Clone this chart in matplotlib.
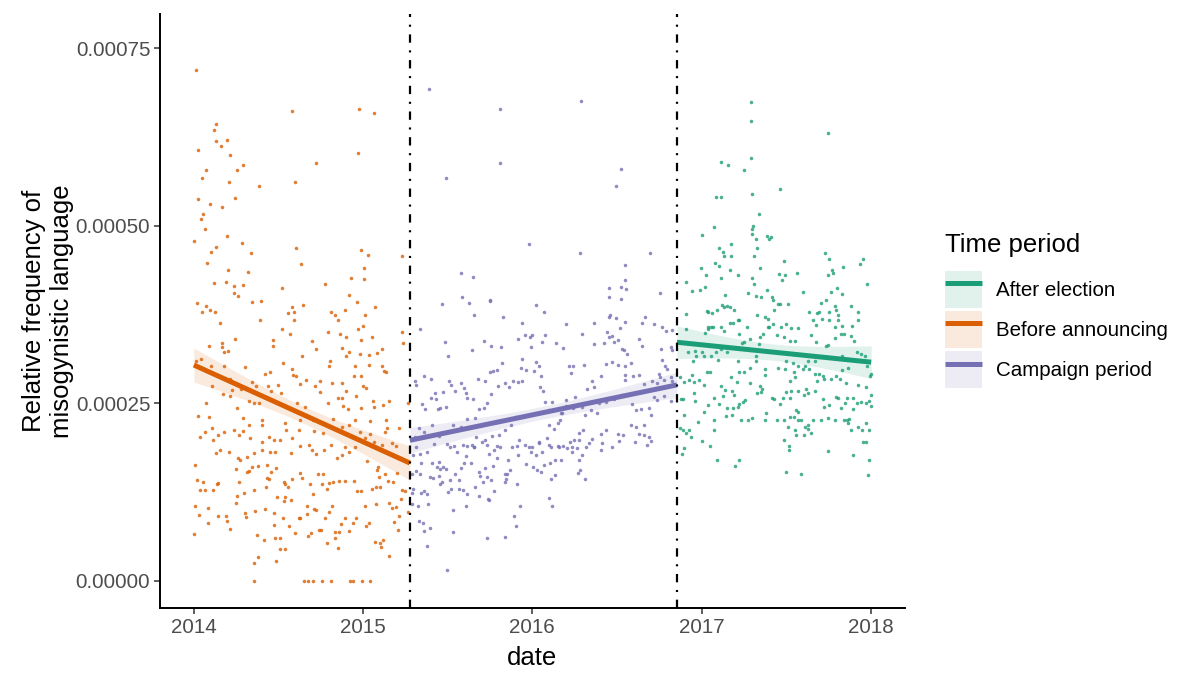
import numpy as np
import pandas as pd
import matplotlib
matplotlib.use("Agg")
import matplotlib.pyplot as plt
import matplotlib.dates as mdates
from matplotlib.lines import Line2D
from matplotlib.patches import Patch
from matplotlib.ticker import FuncFormatter

START = pd.Timestamp("2014-01-01")
ANNOUNCE = pd.Timestamp("2015-04-12")
ELECTION = pd.Timestamp("2016-11-08")
END = pd.Timestamp("2018-01-01")

# daily points: day = days since 2014-01-01, val = relative frequency in units of 1e-5
before_day = [
    4, 211, 356, 389, 355, 263, 219, 140, 48, 44, 48, 71, 58, 8, 78, 107, 94, 27, 18, 76, 89, 10, 34, 60, 20, 16, 24,
    71, 1, 103, 47, 37, 124, 220, 360, 375, 450, 29, 231, 367, 73, 117, 339, 367, 43, 69, 87, 105, 283, 191, 86,
    96, 334, 126, 144, 7, 353, 27, 212, 236, 391, 18, 35, 46, 203, 215, 296, 305, 325, 369, 217, 312, 143, 57, 364,
    354, 190, 289, 449, 208, 315, 329, 89, 171, 255, 361, 385, 451, 60, 73, 32, 170, 264, 320, 61, 65, 334, 406,
    395, 358, 378, 328, 233, 4, 15, 293, 192, 377, 347, 405, 38, 66, 110, 292, 211, 411, 415, 165, 153, 214, 220,
    346, 360, 242, 272, 298, 319, 79, 135, 125, 229, 159, 182, 262, 40, 365, 372, 329, 83, 79, 62, 102, 166, 188,
    272, 349, 312, 319, 386, 421, 409, 26, 120, 129, 140, 223, 239, 290, 321, 333, 360, 389, 94, 461,
    8, 33, 107, 147, 197, 228, 258, 301, 348, 381, 414,
    13, 23, 40, 53, 65, 87, 98, 107, 118, 146, 198, 226, 260, 278, 319, 334, 359, 379, 413, 417, 443,
    41, 47, 56, 75, 96, 100, 115, 122, 130, 148, 147, 163, 165, 172, 185, 175, 210, 211, 229, 249, 255, 263, 280,
    296, 309, 320, 335, 348, 370, 388, 406, 427, 435, 373, 327,
    3, 6, 19, 13, 23, 41, 51, 53, 91, 98, 115, 119, 126, 138, 157, 157, 162, 167, 178, 194, 197, 204, 211, 228, 233,
    250, 258, 268, 278, 276, 287, 292, 301, 314, 327, 345, 353, 361, 385, 392, 401, 397, 399, 413, 419, 429, 438,
    450, 456, 395,
    3, 11, 30, 31, 53, 69, 72, 77, 91, 93, 109, 111, 112, 130, 131, 154, 156, 173, 173, 179, 192, 195, 197, 206,
    209, 226, 229, 244, 260, 263, 244, 270, 274, 282, 292, 299, 305, 304, 314, 318, 325, 335, 343, 350, 370, 372,
    378, 392, 391, 402, 404, 407, 422, 427, 432, 435, 442, 440, 462, 447,
    0, 137, 152, 175, 185, 185, 197, 129, 138, 177, 219, 247, 252, 287, 310, 420,
    129, 237, 247, 256, 276, 296, 336, 343, 363, 380,
]
before_val = [
    71.9, 66.1, 66.5, 65.9, 60.3, 58.9, 56.1, 55.6, 64.3, 63.5, 61.9, 62.1, 61.2, 60.6, 59.9, 58.6, 57.9, 57.8, 56.7,
    56.2, 53.9, 53.8, 53.0, 52.6, 51.7, 50.9, 49.6,
    48.6, 47.9, 47.5, 47.0, 46.3, 46.2, 46.8, 46.6, 45.9, 45.7, 44.8, 44.6, 44.0, 43.7, 43.5, 42.7, 42.5, 42.0, 42.1,
    41.5, 41.6, 41.8, 41.2, 40.5, 40.1, 40.3, 39.2, 39.4, 39.1, 39.3, 38.7, 38.6, 38.8, 38.5, 37.9, 38.1, 37.8, 37.7,
    37.8, 37.9, 37.4, 38.1, 37.5, 36.7, 36.8, 36.8, 36.3, 35.9, 35.5, 35.5, 35.1, 35.0, 34.8, 34.7, 34.3, 34.1, 33.9,
    33.8, 33.9, 34.4, 33.5, 33.5, 32.4, 33.1, 33.1, 32.6, 32.8, 32.9, 32.3, 32.2, 32.6, 32.1, 32.0, 31.8, 31.6, 31.7,
    30.9, 31.2, 30.9, 30.7, 30.4, 30.3, 30.2, 30.2, 30.2, 30.1, 30.2, 29.9, 29.6, 29.4, 29.4, 29.2, 29.0, 28.9, 28.9,
    28.9, 28.3, 28.2, 27.9, 27.9, 28.5, 27.5, 28.0, 27.7, 27.5, 27.6, 27.4, 27.5, 27.4, 27.1, 26.8, 26.9, 26.1, 26.3,
    27.0, 26.8, 26.4, 26.6, 26.0, 25.8, 25.8, 25.3, 25.3, 24.8, 25.0, 25.4, 25.1, 25.1, 25.1, 24.5, 25.0, 24.6, 24.2,
    24.3, 24.5, 24.3, 25.0,
    23.2, 23.1, 23.0, 22.7, 22.3, 22.6, 22.6, 22.8, 22.6, 22.5, 22.7,
    20.3, 21.0, 21.6, 20.5, 21.0, 21.3, 20.5, 21.1, 21.9, 22.0, 21.2, 21.3, 21.1, 20.9, 21.7, 21.9, 21.0, 20.7, 21.0,
    21.6, 21.6,
    19.8, 18.0, 18.4, 18.2, 17.3, 17.1, 17.5, 20.1, 18.0, 19.5, 18.5, 20.2, 18.2, 19.8, 19.8, 18.1, 18.0, 20.1, 19.0,
    19.2, 18.5, 17.9, 18.4, 19.2, 17.3, 17.7, 18.1, 18.9, 20.1, 19.6, 19.1, 19.4, 19.0, 16.9, 18.9,
    16.3, 14.2, 14.0, 12.8, 12.8, 12.8, 13.7, 13.8, 15.7, 14.0, 15.3, 15.5, 16.1, 16.2, 16.3, 14.5, 14.4, 15.4, 15.9,
    14.0, 13.6, 13.2, 14.4, 15.2, 14.5, 13.6, 12.2, 15.1, 15.0, 13.6, 12.9, 13.8, 14.0, 14.1, 14.1, 14.1, 12.6, 12.7,
    12.9, 13.2, 13.2, 16.0, 14.7, 15.0, 14.1, 14.0, 15.2, 12.8, 12.7, 15.6,
    10.6, 9.3, 8.1, 10.3, 9.1, 9.1, 8.5, 7.3, 11.0, 12.0, 12.4, 9.6, 9.0, 12.8, 9.8, 10.2, 13.2, 7.9, 9.6, 11.8, 8.8,
    11.3, 11.8, 7.7, 11.4, 8.8, 8.8, 10.5, 10.1, 10.0, 9.5, 7.2, 7.2, 8.9, 9.7, 10.6, 6.0, 6.9, 6.9, 8.0, 8.8, 7.0,
    8.1, 8.8, 10.5, 7.7, 8.2, 10.8, 5.5, 5.4, 4.8, 5.8, 11.0, 10.3, 8.3, 10.4, 9.1, 7.2, 9.7, 11.5,
    6.6, 6.5, 5.8, 6.0, 6.0, 4.5, 4.5, 2.5, 3.4, 2.8, 6.8, 6.4, 6.7, 5.3, 4.7, 3.5,
    0, 0, 0, 0, 0, 0, 0, 0, 0, 0,
]

campaign_day = [
    508, 660, 835, 661, 543, 921, 910, 724, 834, 985, 930, 577, 603, 929, 895, 921, 932, 1005, 578, 895, 922, 638,
    536, 594, 638, 739, 756, 605, 666, 895, 910, 897, 931, 974, 967, 488, 707, 802, 863, 891, 919, 992, 1010, 1019,
    1032, 542, 548, 599, 626, 640, 663, 700, 714, 726, 730, 727, 757, 751, 782, 797, 838, 864, 884, 895, 901, 906,
    916, 924, 928, 935, 960, 966, 1007, 1032, 1029,
    665, 645, 655, 639, 627, 614, 583, 588, 577, 564, 551, 554, 512, 496, 480, 478, 521, 537, 511, 493, 499, 526,
    530, 544, 522, 485, 476, 496, 514, 529, 559, 576, 590, 606, 589, 603, 616, 632, 626, 642, 657, 671, 679, 689,
    699, 708, 705, 707, 717, 733, 738, 744, 748, 746, 753, 758, 766, 773, 766, 776, 785, 793, 802, 809, 814, 818,
    841, 849, 859, 864, 878, 888, 902, 915, 929, 931, 943, 931, 947, 960, 971, 989, 998, 1006, 1003, 1015, 1010,
    1016, 1020, 1029, 1032, 993, 998, 1014, 1029, 982, 964, 953, 945, 943, 953, 972, 960, 970, 982, 986, 924, 906,
    888, 874, 870, 856, 843, 838, 823, 817, 802, 794, 789, 839, 830, 820, 812, 830, 859, 879, 888, 914, 926, 694,
    684, 672, 658, 643, 629, 609, 581, 562, 547, 604, 632, 661, 701, 715, 730, 744, 761, 770, 787, 805, 827, 845,
    881, 903,
    480, 487, 472, 503, 519, 553, 568, 587, 589, 604, 599, 622, 636, 647, 655, 654, 677, 686, 699, 697, 722, 728,
    737, 745, 750, 766, 786, 792, 796, 816, 816, 838, 830, 853, 879, 917, 951, 977, 986,
    491, 514, 529, 537, 543, 524, 532, 528, 509, 515, 479, 488, 470, 564, 576, 583, 598, 615, 617, 629, 646, 672,
    673, 676, 681, 717, 732, 740, 749, 755, 769, 779, 779, 833, 829, 843, 770,
    555, 573, 590, 548, 530, 535, 552, 571, 607, 624, 632, 642, 698, 672, 471, 496, 489, 502, 470, 483, 505, 473,
    634, 636, 616, 647, 581, 559, 586, 704, 767, 773, 690, 486, 494, 510, 497, 558, 633, 671, 695, 502, 547,
]
campaign_val = [
    69.3, 66.5, 67.5, 58.8, 56.7, 58.0, 55.6, 47.4, 46.1, 46.1, 44.5, 43.3, 42.8, 42.4, 41.3, 41.4, 41.1, 40.6, 40.0,
    40.0, 39.7, 39.6,
    39.0, 39.1, 39.4, 38.8, 37.9, 37.4, 37.2, 37.2, 37.0, 37.4, 36.4, 37.1, 36.3, 35.4, 36.3, 36.2, 36.3, 35.1, 35.6,
    36.2, 35.8, 35.2, 35.3, 33.6, 31.7, 32.5, 33.8, 33.1, 32.9, 34.0, 34.6, 34.4, 34.6, 33.0, 34.6, 33.6, 33.5, 32.8,
    34.7, 33.4, 33.5, 34.4, 34.5, 33.7, 33.9, 32.6, 32.5, 31.9, 34.0, 33.1, 32.6, 32.5, 33.0,
    30.7, 29.6, 29.7, 29.4, 28.1, 28.4, 27.1, 26.4, 27.8, 26.7, 28.1, 27.6, 28.5, 28.8, 27.6, 28.1, 26.5, 26.6, 25.8,
    24.9, 24.2, 24.2, 24.4, 24.5, 25.6, 21.6, 20.3, 21.0, 22.0, 20.4, 21.9, 21.7, 22.8, 22.9, 25.7, 25.6, 24.2, 25.1,
    24.4, 26.3, 27.4, 27.8, 27.3, 28.1, 28.0, 28.1, 30.0, 31.3, 29.7, 29.6, 30.8, 30.3, 28.8, 27.3, 26.8, 25.2, 24.1,
    25.2, 21.9, 21.4, 22.3, 23.6, 25.5, 30.2, 29.3, 30.2, 30.4, 27.0, 28.2, 27.3, 28.8, 30.5, 30.8, 30.4, 29.0, 30.2,
    30.7, 28.3, 28.9, 29.0, 27.7, 28.2, 27.9, 28.7, 29.1, 28.3, 31.1, 30.3, 29.8, 28.7, 28.1, 25.9, 25.5, 26.0, 25.4,
    24.3, 24.2, 24.1, 24.9, 21.9, 21.7, 21.9, 20.7, 20.5, 20.3, 23.4, 26.2, 25.6, 25.2, 25.0, 23.7, 24.1, 23.4, 24.5,
    25.9, 24.3, 24.6, 23.6, 22.7, 21.3, 20.9, 19.9, 19.6, 19.8, 20.0, 20.7, 21.2, 20.7, 20.6, 23.1, 21.9, 21.3, 20.5,
    20.4, 19.8, 20.3, 19.1, 19.0, 19.3, 18.9, 19.1, 18.8, 19.8, 19.1, 18.9, 19.4, 20.1, 18.8, 18.9, 18.7, 18.7, 18.9,
    19.4, 18.9,
    18.9, 17.9, 17.7, 18.2, 19.3, 18.9, 18.1, 17.6, 19.0, 18.9, 19.2, 19.6, 17.9, 18.4, 19.0, 17.3, 17.0, 18.9, 17.7,
    19.0, 18.8, 18.2, 17.8, 19.5, 18.1, 19.1, 19.0, 17.1, 19.0, 18.2, 18.9, 17.7, 17.0, 19.4, 18.4, 19.7, 19.6, 19.2,
    19.7,
    16.6, 16.6, 16.7, 16.0, 15.7, 16.1, 15.8, 14.8, 14.6, 14.5, 15.5, 15.1, 15.1, 15.1, 15.9, 16.6, 16.6, 15.4, 14.8,
    15.9, 16.2, 15.1, 14.4, 15.0, 15.6, 16.4, 16.1, 15.6, 15.3, 16.3, 16.6, 17.1, 14.9, 15.6, 15.2, 14.3, 14.3,
    12.9, 12.9, 12.3, 12.5, 13.6, 13.9, 14.2, 14.2, 13.3, 13.9, 14.7, 14.2, 13.7, 14.0, 12.4, 12.7, 12.4, 12.2, 10.9,
    10.6, 10.9, 13.0, 11.6, 11.4, 12.0, 12.6, 12.8, 10.0, 10.5, 10.5, 11.7, 10.5, 9.2, 8.5, 8.2, 7.4, 7.1, 6.9, 6.1,
    6.2, 7.7, 4.9, 1.5,
]

after_day = [
    1202, 1202, 1368,
    1202, 1137, 1152, 1187, 1264, 1127, 1138, 1203, 1218, 1207, 1204, 1205, 1123, 1097, 1213, 1236, 1240, 1245,
    1133, 1158, 1141, 1144, 1159, 1215, 1209, 1125, 1132, 1094, 1105, 1156, 1138, 1173, 1221, 1272, 1262, 1275,
    1269, 1300, 1204, 1208, 1362, 1371, 1377, 1379, 1367, 1401, 1444, 1436, 1452, 1062, 1074, 1091, 1103, 1146,
    1196, 1212, 1223, 1236, 1248, 1249, 1261, 1265, 1281, 1313, 1364, 1375, 1388, 1399, 1352, 1369, 1383, 1385,
    1418, 1432, 1061, 1106, 1108, 1118, 1128, 1140, 1144, 1149, 1157, 1165, 1174, 1177, 1156, 1164, 1194, 1215,
    1232, 1239, 1252, 1327, 1344, 1349, 1336, 1341, 1354, 1370, 1390, 1390, 1432, 1119, 1110, 1137, 1238, 1249,
    1267, 1277, 1288, 1303,
    1061, 1110, 1115, 1241, 1420, 1398, 1382, 1102, 1143, 1175, 1187, 1182, 1199, 1218, 1221, 1228, 1258, 1272,
    1285, 1297, 1331, 1341, 1363, 1368, 1382, 1395, 1403, 1418, 1425, 1066, 1082, 1084, 1077, 1097, 1101, 1115,
    1126, 1138, 1150, 1130, 1173, 1186, 1199, 1177, 1159, 1171, 1212, 1233, 1231, 1212, 1199, 1222, 1259, 1278,
    1292, 1304, 1313, 1319, 1328, 1325, 1339, 1340, 1349, 1357, 1360, 1345, 1375, 1385, 1398, 1398, 1411, 1430,
    1439, 1448, 1452, 1458, 1461, 1449, 1432, 1406, 1393, 1295, 1297, 1286, 1275, 1048, 1058, 1069, 1078, 1090,
    1074, 1107, 1114, 1137, 1101, 1145, 1161, 1166, 1141, 1123, 1108, 1079, 1081, 1056, 1051, 1132, 1150, 1162,
    1173, 1177, 1184, 1188, 1226, 1223, 1215, 1248, 1251, 1277, 1288, 1286, 1264, 1270, 1303, 1316, 1321, 1324,
    1340, 1357, 1359, 1369, 1385, 1389, 1396, 1404, 1408, 1422, 1431, 1439, 1450, 1457, 1461, 1460, 1421, 1413,
    1410, 1403, 1408, 1432, 1449, 1457, 1442, 1418, 1382, 1367, 1353, 1335, 1324, 1310, 1304, 1295, 1299, 1303,
    1285, 1272, 1257, 1235, 1232, 1203, 1196, 1180, 1160, 1148, 1121, 1123, 1101, 1087, 1058, 1049, 1056, 1061,
    1069, 1072, 1096, 1113, 1058, 1053, 1282, 1284, 1284, 1272, 1299, 1297, 1316, 1324, 1319, 1331, 1367, 1422,
    1457, 1454, 1443, 1450, 1177, 1167, 1129, 1278, 1310,
]
after_val = [
    67.4, 64.7, 63.0,
    59.6, 59.0, 58.5, 57.8, 55.2, 54.0, 54.1, 54.4, 51.7, 50.0, 49.5, 48.9, 49.8, 48.7, 48.2, 48.5, 48.1, 48.4, 46.8,
    47.4, 46.3, 45.8, 45.7, 46.9, 45.7, 44.8, 44.3, 44.1, 43.1, 43.8, 42.7, 43.1, 44.0, 45.0, 43.2, 43.1, 42.4, 43.4,
    42.7, 41.8, 46.2, 45.3, 43.8, 43.4, 43.0, 44.2, 45.3, 44.6, 41.8, 42.1, 40.8, 41.0, 41.4, 40.2, 40.5, 40.1, 40.0,
    41.0, 40.0, 39.5, 39.0, 39.0, 39.0, 40.7, 39.6, 40.7, 41.3, 40.4, 39.1, 37.9, 38.7, 38.1, 38.7, 37.9, 37.6, 38.0,
    37.8, 37.7, 38.2, 38.9, 38.6, 38.7, 38.6, 38.2, 36.8, 36.8, 36.3, 36.3, 35.8, 37.4, 37.1, 36.9, 38.2, 37.8, 37.7,
    37.9, 36.7, 36.0, 36.9, 36.7, 36.7, 37.4, 36.7, 35.8, 35.7, 35.7, 35.8, 36.2, 35.8, 36.2, 35.6, 35.6,
    35.5, 35.4, 35.7, 35.8, 35.9, 35.9, 35.8, 34.9, 35.2, 34.7, 33.7, 33.5, 34.0, 33.3, 34.4, 34.7, 34.6, 34.4, 33.8,
    33.8, 34.6, 33.6, 33.1, 33.2, 34.2, 34.8, 34.8, 34.5, 33.8, 32.2, 32.4, 31.6, 30.9, 32.2, 31.6, 31.7, 32.3, 32.6,
    32.3, 31.1, 30.9, 29.4, 30.0, 29.4, 28.7, 28.0, 31.7, 29.8, 29.0, 30.9, 27.8, 27.5, 30.0, 31.0, 30.7, 30.3, 29.9,
    30.2, 29.9, 31.0, 30.9, 29.2, 29.2, 28.9, 28.5, 28.1, 28.5, 28.8, 29.7, 31.6, 30.0, 32.2, 32.0, 31.7, 30.2, 28.8,
    29.1, 27.3, 27.6, 27.8, 28.4, 29.4, 28.7, 28.1, 29.9, 28.7, 28.0, 28.3, 28.0, 28.3, 29.0, 29.4, 29.4, 27.5, 27.6,
    26.9, 26.7, 26.2, 26.0, 25.8, 24.8, 26.4, 25.4, 25.6, 25.6, 24.9, 24.4, 24.3, 24.5, 24.9, 25.2, 25.5, 27.0, 26.6,
    26.4, 25.8, 25.6, 26.6, 26.8, 25.8, 24.9, 25.8, 26.8, 26.2, 27.0, 26.5, 26.8, 25.6, 24.5, 24.8, 25.9, 25.8, 24.4,
    25.1, 25.8, 25.7, 25.0, 25.2, 25.0, 25.4, 26.2, 24.6, 24.2, 22.8, 22.2, 22.6, 22.6, 21.7, 22.2, 21.3, 21.2, 21.2,
    22.6, 23.0, 22.7, 22.6, 21.9, 22.6, 22.6, 23.1, 24.1, 23.8, 23.1, 22.6, 22.6, 23.6, 22.7, 22.9, 22.6, 22.6, 23.4,
    23.2, 22.7, 21.2, 23.8, 22.4, 23.4, 21.5, 21.2, 20.9, 21.2, 20.3, 19.7, 19.0, 18.7, 17.9, 21.7, 19.0, 18.4, 19.9,
    20.5, 21.2, 20.5, 21.4, 21.7, 20.8, 18.3, 17.7, 17.0, 14.9, 19.5, 19.5, 17.1, 16.2, 17.1, 15.3, 15.1,
]

# lm fit: value at start and end of each period (1e-5)
fit_before = [30.4, 16.6]
fit_campaign = [19.8, 27.6]
fit_after = [33.6, 30.8]
# half width of the confidence band at the period ends and in the middle (1e-5)
band_before = [2.4, 1.2]
band_campaign = [1.8, 0.9]
band_after = [2.3, 1.15]

colors = {"After election": "#1B9E77", "Before announcing": "#D95F02", "Campaign period": "#7570B3"}


def to_dates(days):
    return START + pd.to_timedelta(np.asarray(days, dtype=float), unit="D")


def draw_period(ax, days, vals, t0, t1, fit, band, color):
    ax.scatter(to_dates(days), np.asarray(vals) * 1e-5, s=6.5, color=color, alpha=0.8,
               linewidths=0, zorder=2)
    t = pd.date_range(t0, t1, periods=100)
    u = np.linspace(-1, 1, 100)
    line = np.linspace(fit[0], fit[1], 100) * 1e-5
    hw = np.sqrt(band[1] ** 2 + (band[0] ** 2 - band[1] ** 2) * u ** 2) * 1e-5
    ax.fill_between(t, line - hw, line + hw, color=color, alpha=0.13, lw=0, zorder=3)
    ax.plot(t, line, color=color, lw=3.6, solid_capstyle="butt", zorder=4)


plt.rcParams["font.family"] = ["Liberation Sans", "DejaVu Sans"]
plt.rcParams["lines.scale_dashes"] = False

fig = plt.figure(figsize=(12, 6.85), dpi=100)
ax = fig.add_axes([160 / 1200, 77 / 685, 745 / 1200, 594 / 685])

draw_period(ax, before_day, before_val, START, ANNOUNCE, fit_before, band_before,
            colors["Before announcing"])
draw_period(ax, campaign_day, campaign_val, ANNOUNCE, ELECTION, fit_campaign, band_campaign,
            colors["Campaign period"])
draw_period(ax, after_day, after_val, ELECTION, END, fit_after, band_after,
            colors["After election"])

for d in [ANNOUNCE, ELECTION]:
    ax.axvline(d, color="black", lw=1.6, linestyle=(0, (6, 5.5, 1.5, 5.5)), zorder=5)

ax.set_xlim(START - pd.Timedelta(days=73), END + pd.Timedelta(days=73))
ax.set_ylim(-0.000038, 0.000798)
ax.xaxis.set_major_locator(mdates.YearLocator())
ax.xaxis.set_major_formatter(mdates.DateFormatter("%Y"))
ax.set_yticks([0, 0.00025, 0.0005, 0.00075])
ax.yaxis.set_major_formatter(FuncFormatter(lambda v, p: f"{v:.5f}"))

for side in ["top", "right"]:
    ax.spines[side].set_visible(False)
for side in ["left", "bottom"]:
    ax.spines[side].set_linewidth(1.4)
ax.tick_params(direction="out", length=4, width=1.1, color="#333333",
               labelsize=14.8, labelcolor="#4D4D4D", pad=3)

ax.set_xlabel("date", fontsize=18.5, labelpad=7)
ax.set_ylabel("Relative frequency of\nmisogynistic language", fontsize=18.5, labelpad=1,
              linespacing=1.25)

# legend: title as its own text, keys below it
fig.text(945 / 1200, 1 - 245 / 685, "Time period", fontsize=18.5, ha="left", va="center")
labels = ["After election", "Before announcing", "Campaign period"]
handles = [(Patch(facecolor=colors[k], alpha=0.13, edgecolor="none"),
            Line2D([], [], color=colors[k], lw=3.6, solid_capstyle="butt")) for k in labels]
leg = fig.legend(handles, labels, loc="upper left", bbox_to_anchor=(945 / 1200, 1 - 271 / 685),
                 frameon=False, fontsize=14.8,
                 handlelength=1.78, handleheight=2.39, labelspacing=0.15, handletextpad=0.7,
                 borderpad=0, borderaxespad=0)

fig.savefig("out.png", dpi=100)
